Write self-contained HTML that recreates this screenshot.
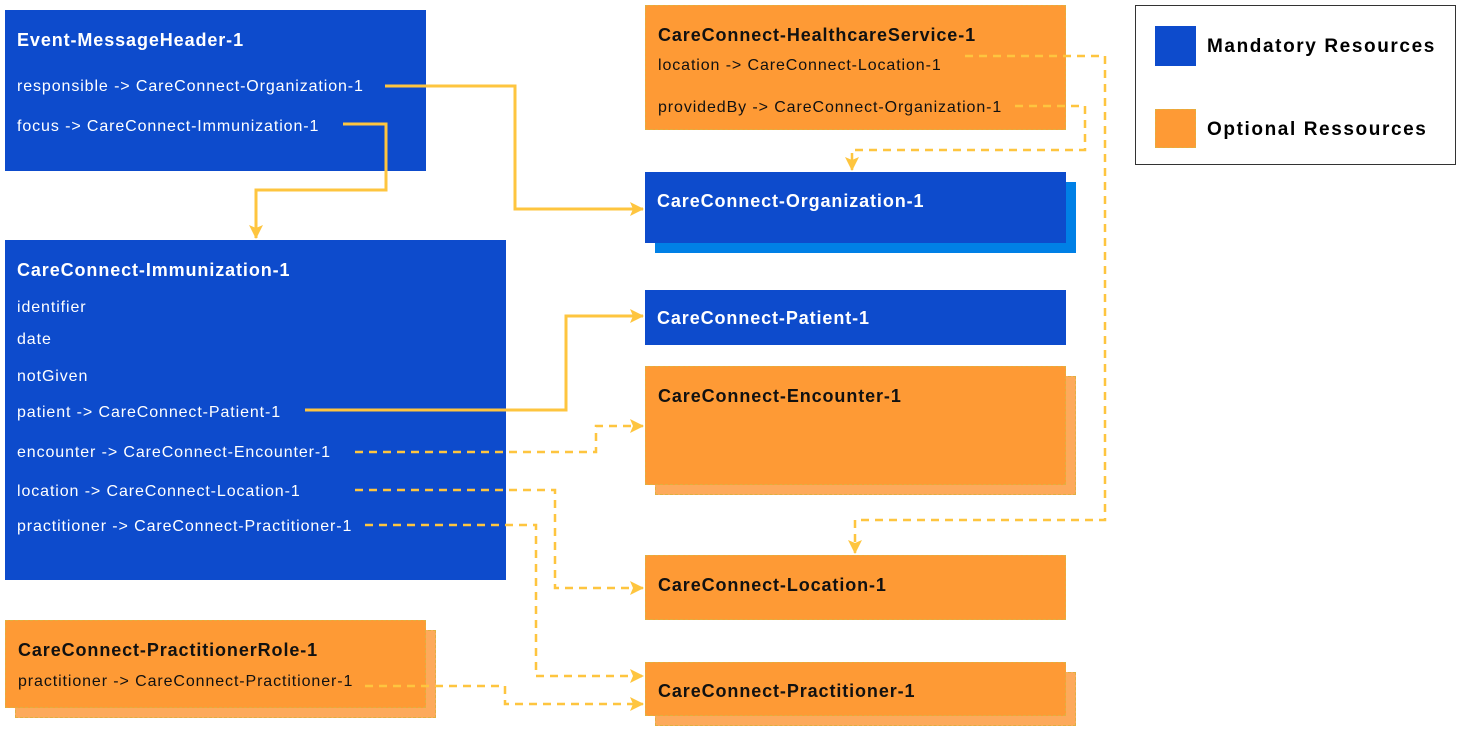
<!DOCTYPE html>
<html><head><meta charset="utf-8"><style>
body{margin:0;width:1461px;height:733px;position:relative;background:#fff;font-family:"Liberation Sans",sans-serif;overflow:hidden}
.b{position:absolute;background:#0d4bcc;color:#fff;box-sizing:border-box}
.o{position:absolute;background:#fe9a35;color:#111;box-sizing:border-box;border:1px dashed #e0b040}
.os{position:absolute;background:#fdaa5c;border:1px dashed #e0b040;box-sizing:border-box}
.t{position:absolute;left:12px;font-weight:bold;font-size:18px;letter-spacing:0.9px;white-space:nowrap}
.i{position:absolute;left:12px;font-size:16px;letter-spacing:0.9px;white-space:nowrap}
</style></head><body>
<div class="b" style="left:5px;top:10px;width:421px;height:161px">
<div class="t" style="top:20px">Event-MessageHeader-1</div>
<div class="i" style="top:68px">responsible -&gt; CareConnect-Organization-1</div>
<div class="i" style="top:108px">focus -&gt; CareConnect-Immunization-1</div></div>

<div class="b" style="left:5px;top:240px;width:501px;height:340px">
<div class="t" style="top:20px">CareConnect-Immunization-1</div>
<div class="i" style="top:59px">identifier</div>
<div class="i" style="top:91px">date</div>
<div class="i" style="top:128px">notGiven</div>
<div class="i" style="top:164px">patient -&gt; CareConnect-Patient-1</div>
<div class="i" style="top:204px">encounter -&gt; CareConnect-Encounter-1</div>
<div class="i" style="top:243px">location -&gt; CareConnect-Location-1</div>
<div class="i" style="top:278px">practitioner -&gt; CareConnect-Practitioner-1</div></div>

<div class="os" style="left:15px;top:630px;width:421px;height:88px"></div>
<div class="o" style="left:5px;top:620px;width:421px;height:88px">
<div class="t" style="top:19px">CareConnect-PractitionerRole-1</div>
<div class="i" style="top:52px">practitioner -&gt; CareConnect-Practitioner-1</div></div>

<div class="o" style="left:645px;top:5px;width:421px;height:125px">
<div class="t" style="top:19px">CareConnect-HealthcareService-1</div>
<div class="i" style="top:51px">location -&gt; CareConnect-Location-1</div>
<div class="i" style="top:93px">providedBy -&gt; CareConnect-Organization-1</div></div>

<div class="b" style="left:655px;top:182px;width:421px;height:71px;background:#0080e6"></div>
<div class="b" style="left:645px;top:172px;width:421px;height:71px">
<div class="t" style="top:19px">CareConnect-Organization-1</div></div>

<div class="b" style="left:645px;top:290px;width:421px;height:55px">
<div class="t" style="top:18px">CareConnect-Patient-1</div></div>

<div class="os" style="left:655px;top:376px;width:421px;height:119px"></div>
<div class="o" style="left:645px;top:366px;width:421px;height:119px">
<div class="t" style="top:19px">CareConnect-Encounter-1</div></div>

<div class="o" style="left:645px;top:555px;width:421px;height:65px">
<div class="t" style="top:19px">CareConnect-Location-1</div></div>

<div class="os" style="left:655px;top:672px;width:421px;height:54px"></div>
<div class="o" style="left:645px;top:662px;width:421px;height:54px">
<div class="t" style="top:18px">CareConnect-Practitioner-1</div></div>

<div style="position:absolute;left:1135px;top:5px;width:321px;height:160px;border:1px solid #333;box-sizing:border-box">
<div style="position:absolute;left:19px;top:20px;width:41px;height:40px;background:#0d4bcc"></div>
<div style="position:absolute;left:71px;top:30px;font-weight:bold;font-size:19px;letter-spacing:1.6px;white-space:nowrap">Mandatory Resources</div>
<div style="position:absolute;left:19px;top:103px;width:41px;height:39px;background:#fe9a35;border:1px dashed #e0b040;box-sizing:border-box"></div>
<div style="position:absolute;left:71px;top:113px;font-weight:bold;font-size:19px;letter-spacing:1.6px;white-space:nowrap">Optional Ressources</div>
</div>

<svg width="1461" height="733" style="position:absolute;left:0;top:0" fill="none" stroke="#fec53f" stroke-width="3">
<defs>
<marker id="m" markerWidth="14" markerHeight="14" refX="13" refY="7" orient="auto" markerUnits="userSpaceOnUse"><path d="M0,0L14,7L0,14L3,7Z" fill="#fec53f" stroke="none"/></marker></defs>
<path d="M385,86H515V209H643" marker-end="url(#m)"/>
<path d="M343,124H386V190H256V238" marker-end="url(#m)"/>
<path d="M305,410H566V316H643" marker-end="url(#m)"/>
<g stroke-dasharray="8,6" stroke-width="2.5">
<path d="M355,452H596V426H643" marker-end="url(#m)"/>
<path d="M355,490H555V588H643" marker-end="url(#m)"/>
<path d="M365,525H536V676H643" marker-end="url(#m)"/>
<path d="M365,686H505V704H643" marker-end="url(#m)"/>
<path d="M965,56H1105V520H855V553" marker-end="url(#m)"/>
<path d="M1015,106H1085V150H852V170" marker-end="url(#m)"/>
</g></svg>
</body></html>
